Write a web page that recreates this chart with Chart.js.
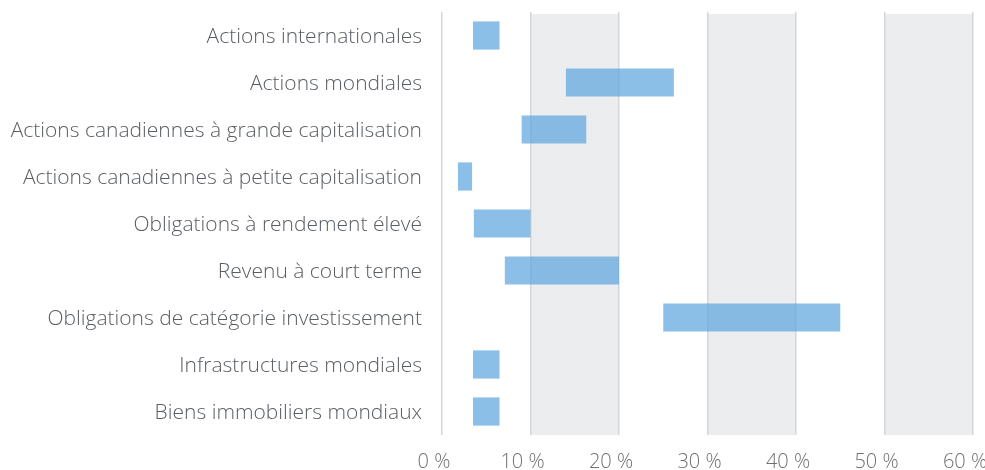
<!DOCTYPE html>
<html>
<head>
<meta charset="utf-8">
<script src="https://cdn.jsdelivr.net/npm/chart.js"></script>
<style>
    body { margin: 0; background: #fff; }
    #wrap { width: 985px; height: 470px; position: relative; }
</style>
</head>
<body>
<div id="wrap"><canvas id="rangeChart"></canvas></div>
<script>
// Fourchettes de répartition par catégorie d'actif (en %)
const categories = [
    'Actions internationales',
    'Actions mondiales',
    'Actions canadiennes à grande capitalisation',
    'Actions canadiennes à petite capitalisation',
    'Obligations à rendement élevé',
    'Revenu à court terme',
    'Obligations de catégorie investissement',
    'Infrastructures mondiales',
    'Biens immobiliers mondiaux'
];
const minValues = [3.5, 14, 9, 1.8, 3.6, 7.1, 25, 3.5, 3.5];
const maxValues = [6.5, 26.2, 16.3, 3.4, 10, 20, 45, 6.5, 6.5];
const tickValues = [0, 10, 20, 30, 40, 50, 60];
const shadedBands = [[10, 20], [30, 40], [50, 60]];

// grey bands behind the bars
const bandPlugin = {
    id: 'bands',
    beforeDraw(chart) {
        const { ctx, chartArea, scales } = chart;
        ctx.save();
        ctx.fillStyle = '#ecedef';
        shadedBands.forEach(([a, b]) => {
            const x1 = scales.x.getPixelForValue(a);
            const x2 = scales.x.getPixelForValue(b);
            ctx.fillRect(x1, chartArea.top + 2, x2 - x1, chartArea.bottom - chartArea.top - 2);
        });
        ctx.restore();
    }
};

const ctx = document.getElementById('rangeChart').getContext('2d');
new Chart(ctx, {
    type: 'bar',
    data: {
        labels: categories,
        datasets: [{
            data: categories.map((c, i) => [minValues[i], maxValues[i]]),
            backgroundColor: 'rgba(91,164,222,0.7)',
            borderWidth: 0,
            borderSkipped: false,
            categoryPercentage: 1,
            barPercentage: 0.6
        }]
    },
    options: {
        indexAxis: 'y',
        responsive: true,
        maintainAspectRatio: false,
        animation: false,
        layout: { padding: { top: 12, right: 12, bottom: 0, left: 0 } },
        plugins: {
            legend: { display: false },
            tooltip: { enabled: false }
        },
        scales: {
            x: {
                min: 0,
                max: 60,
                afterBuildTicks: (scale) => { scale.ticks = tickValues.map(v => ({ value: v })); },
                afterFit: (scale) => { scale.paddingLeft = 0; scale.paddingRight = 0; scale.height = 35; },
                grid: { color: '#d6d6d6', lineWidth: 1.5, drawTicks: false },
                border: { display: false },
                ticks: {
                    color: '#707070',
                    padding: 15,
                    labelOffset: -8,
                    font: { family: '"Open Sans"', size: 20, weight: 300 },
                    callback: (v) => v + ' %'
                }
            },
            y: {
                afterFit: (scale) => { scale.width = 442; scale.paddingTop = 0; scale.paddingBottom = 0; },
                grid: { display: false, drawTicks: false },
                border: { display: false },
                ticks: {
                    color: '#5a5e62',
                    padding: 20,
                    labelOffset: 2,
                    font: { family: '"Open Sans"', size: 21, weight: 300 }
                }
            }
        }
    },
    plugins: [bandPlugin]
});
</script>
</body>
</html>
